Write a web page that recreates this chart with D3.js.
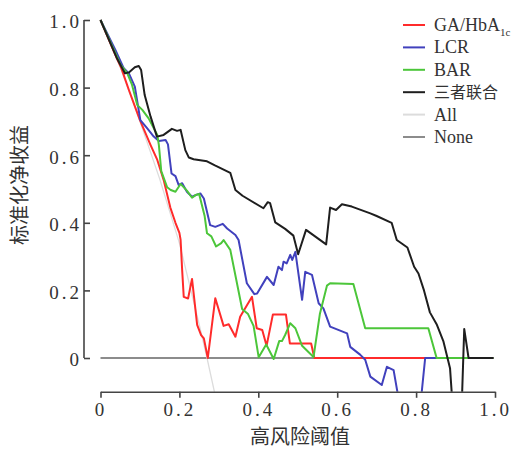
<!DOCTYPE html>
<html lang="zh">
<head>
    <meta charset="UTF-8">
    <title>DCA</title>
    <script src="https://cdn.jsdelivr.net/npm/d3@7"></script>
    <style>
        body { margin: 0; background: #fff; }
        .axis path, .axis line { stroke: #444; stroke-width: 1.6px; }
        .axis text { font-family: "Liberation Serif", serif; font-size: 19px; fill: #333; letter-spacing: 3px; }
        .legend text { font-family: "Liberation Serif", "Noto Sans CJK SC", serif; font-size: 18px; fill: #333; }
        .title { font-family: "Noto Sans CJK SC", sans-serif; font-size: 20px; fill: #333; }
    </style>
</head>
<body>
<svg id="chart" width="517" height="450"></svg>
<script>
    // threshold / standardized net benefit
    var gaPts = [[0, 1], [0.04, 0.89], [0.053, 0.857], [0.072, 0.793], [0.1, 0.704], [0.127, 0.63],
        [0.144, 0.586], [0.16, 0.527], [0.177, 0.445], [0.19, 0.40], [0.2, 0.37], [0.203, 0.35],
        [0.207, 0.26], [0.211, 0.181], [0.222, 0.176], [0.232, 0.234], [0.245, 0.098], [0.255, 0.068],
        [0.262, 0.058], [0.272, 0], [0.291, 0.177], [0.312, 0.095], [0.325, 0.10], [0.342, 0.063],
        [0.354, 0.122], [0.384, 0.181], [0.396, 0.088], [0.41, 0.083], [0.421, 0.036], [0.437, 0.129],
        [0.470, 0.129], [0.480, 0.043], [0.534, 0.043], [0.542, 0], [0.996, 0]];

    var lcrPts = [[0, 1], [0.038, 0.911], [0.059, 0.857], [0.072, 0.842], [0.087, 0.803], [0.101, 0.704],
        [0.118, 0.68], [0.135, 0.655], [0.148, 0.642], [0.165, 0.645], [0.171, 0.632], [0.18, 0.546],
        [0.19, 0.538], [0.198, 0.512], [0.207, 0.517], [0.219, 0.492], [0.232, 0.477], [0.241, 0.482],
        [0.253, 0.487], [0.262, 0.472], [0.278, 0.393], [0.291, 0.388], [0.31, 0.397], [0.321, 0.383],
        [0.342, 0.364], [0.35, 0.349], [0.371, 0.221], [0.39, 0.189], [0.397, 0.191], [0.422, 0.24],
        [0.439, 0.216], [0.451, 0.27], [0.46, 0.26], [0.464, 0.285], [0.472, 0.28], [0.481, 0.305],
        [0.486, 0.29], [0.494, 0.314], [0.511, 0.172], [0.519, 0.255], [0.536, 0.246], [0.553, 0.162],
        [0.565, 0.147], [0.582, 0.093], [0.625, 0.073], [0.633, 0.033], [0.658, 0.01], [0.671, -0.005],
        [0.684, -0.055], [0.713, -0.08], [0.726, -0.026], [0.743, -0.036], [0.76, -0.15], [0.81, -0.15],
        [0.823, 0], [0.996, 0]];

    var barPts = [[0, 1], [0.051, 0.867], [0.068, 0.842], [0.08, 0.808], [0.093, 0.749], [0.106, 0.734],
        [0.122, 0.709], [0.144, 0.66], [0.148, 0.63], [0.154, 0.553], [0.169, 0.505], [0.178, 0.497],
        [0.19, 0.492], [0.203, 0.515], [0.219, 0.495], [0.232, 0.474], [0.241, 0.482], [0.25, 0.485],
        [0.264, 0.42], [0.27, 0.369], [0.281, 0.36], [0.293, 0.33], [0.306, 0.34], [0.312, 0.349],
        [0.329, 0.32], [0.359, 0.145], [0.374, 0.13], [0.388, 0.095], [0.401, 0.002], [0.42, 0.04],
        [0.439, -0.003], [0.453, 0.05], [0.46, 0.05], [0.468, 0.068], [0.481, 0.103], [0.494, 0.088],
        [0.511, 0.036], [0.54, 0.003], [0.556, 0.13], [0.574, 0.214], [0.582, 0.221], [0.641, 0.219],
        [0.671, 0.088], [0.831, 0.088], [0.852, 0], [0.996, 0]];

    var combPts = [[0, 1], [0.042, 0.886], [0.062, 0.842], [0.072, 0.845], [0.087, 0.86], [0.097, 0.864],
        [0.103, 0.852], [0.112, 0.778], [0.127, 0.714], [0.143, 0.655], [0.16, 0.66], [0.181, 0.678],
        [0.194, 0.672], [0.203, 0.675], [0.215, 0.615], [0.224, 0.593], [0.236, 0.588], [0.27, 0.582],
        [0.29, 0.57], [0.329, 0.548], [0.342, 0.497], [0.36, 0.48], [0.413, 0.443], [0.424, 0.461],
        [0.43, 0.458], [0.443, 0.401], [0.468, 0.382], [0.489, 0.362], [0.501, 0.307], [0.521, 0.379],
        [0.572, 0.336], [0.582, 0.445], [0.597, 0.438], [0.612, 0.455], [0.637, 0.448], [0.684, 0.428],
        [0.70, 0.42], [0.738, 0.40], [0.751, 0.349], [0.778, 0.327], [0.795, 0.27], [0.806, 0.25],
        [0.82, 0.20], [0.835, 0.135], [0.852, 0.10], [0.869, 0.05], [0.886, -0.03], [0.896, -0.2],
        [0.914, -0.2], [0.922, 0.086], [0.933, 0], [0.996, 0]];

    var allPts = [[0, 1], [0.05, 0.86], [0.1, 0.70], [0.15, 0.53], [0.2, 0.34], [0.25, 0.10],
        [0.27, 0], [0.3, -0.16]];

    var nonePts = [[0, 0], [0.996, 0]];

    var xTicks = [0, 0.2, 0.4, 0.6, 0.8, 1.0];
    var yTicks = [0, 0.2, 0.4, 0.6, 0.8, 1.0];

    var series = [
        {name: "None", pts: nonePts, color: "#8c8c8c", w: 2},
        {name: "All", pts: allPts, color: "#dcdcdc", w: 1.3},
        {name: "GA/HbA", sub: "1c", pts: gaPts, color: "#ff2b2b", w: 2},
        {name: "LCR", pts: lcrPts, color: "#4141bd", w: 2},
        {name: "BAR", pts: barPts, color: "#4cc63a", w: 2},
        {name: "三者联合", pts: combPts, color: "#1e1e1e", w: 2}
    ];
    var legendOrder = ["GA/HbA", "LCR", "BAR", "三者联合", "All", "None"];

    var svg = d3.select("#chart");

    var x = d3.scaleLinear().domain([0, 1]).range([100.5, 495]);
    var y = d3.scaleLinear().domain([-0.1, 1]).range([391.8, 20]);
    var axisX = 84;

    svg.append("clipPath").attr("id", "plotclip")
        .append("rect")
        .attr("x", x(0) - 2).attr("y", 0)
        .attr("width", x(1) - x(0) + 4).attr("height", y(-0.1));

    var line = d3.line()
        .x(function (d) { return x(d[0]); })
        .y(function (d) { return y(d[1]); });

    svg.append("g").attr("clip-path", "url(#plotclip)")
        .selectAll("path")
        .data(series)
        .enter().append("path")
        .attr("d", function (d) { return line(d.pts); })
        .attr("fill", "none")
        .attr("stroke", function (d) { return d.color; })
        .attr("stroke-width", function (d) { return d.w; })
        .attr("stroke-linejoin", "round");

    // x axis at bottom of plot region
    svg.append("g")
        .attr("class", "axis")
        .attr("transform", "translate(0," + y(-0.1) + ")")
        .call(d3.axisBottom(x).tickValues(xTicks).tickSizeInner(6).tickSizeOuter(0).tickPadding(5)
            .tickFormat(function (d) { return d === 0 ? "0" : d3.format(".1f")(d); }));

    // y axis, ticks pointing inward
    var gy = svg.append("g")
        .attr("class", "axis")
        .attr("transform", "translate(" + axisX + ",0)")
        .call(d3.axisLeft(y).tickValues(yTicks).tickSizeInner(-6).tickSizeOuter(0).tickPadding(2)
            .tickFormat(function (d) { return d === 0 ? "0" : d3.format(".1f")(d); }));
    gy.select(".domain").remove();
    gy.append("line")
        .attr("x1", 0).attr("x2", 0)
        .attr("y1", y(0)).attr("y2", y(1))
        .attr("stroke", "#444").attr("stroke-width", 1.6);
    gy.selectAll("text").attr("dy", "0.42em");

    // titles
    svg.append("text").attr("class", "title")
        .attr("x", 300).attr("y", 444)
        .attr("text-anchor", "middle")
        .text("高风险阈值");
    svg.append("text").attr("class", "title")
        .attr("transform", "translate(27,185) rotate(-90)")
        .attr("text-anchor", "middle")
        .attr("font-size", "21px")
        .text("标准化净收益");

    // legend
    var legend = svg.append("g").attr("class", "legend");
    legendOrder.forEach(function (name, i) {
        var s = series.filter(function (d) { return d.name === name; })[0];
        var cy = 25 + i * 22.4;
        legend.append("line")
            .attr("x1", 403).attr("x2", 425)
            .attr("y1", cy).attr("y2", cy)
            .attr("stroke", s.color).attr("stroke-width", 2);
        var t = legend.append("text").attr("x", 434).attr("y", cy + 6);
        if (/[\u4e00-\u9fff]/.test(name)) {
            t.attr("y", cy + 5.5)
                .style("font-family", "'Noto Sans CJK SC', sans-serif").style("font-size", "16px");
        }
        t.append("tspan").text(name);
        if (s.sub) {
            t.append("tspan").attr("dy", 5).style("font-size", "11px").text(s.sub);
        }
    });
</script>
</body>
</html>
